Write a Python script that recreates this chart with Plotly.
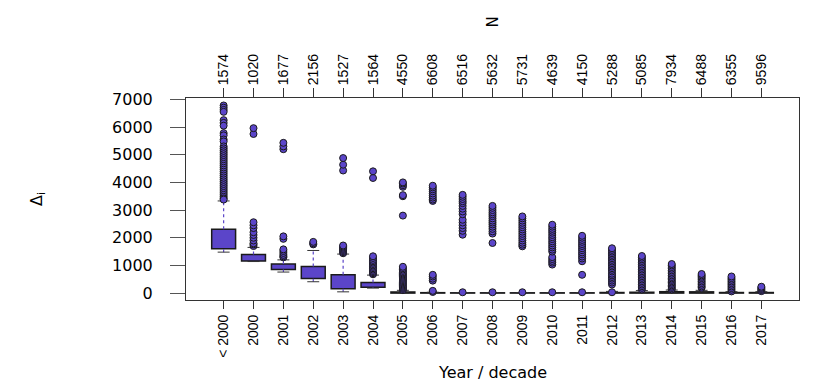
import plotly.graph_objects as go

YEARS = ["< 2000", "2000", "2001", "2002", "2003", "2004", "2005", "2006", "2007", "2008",
         "2009", "2010", "2011", "2012", "2013", "2014", "2015", "2016", "2017"]
N = [1574, 1020, 1677, 2156, 1527, 1564, 4550, 6608, 6516, 5632,
     5731, 4639, 4150, 5288, 5085, 7934, 6488, 6355, 9596]

# box stats
Q1 = [1600, 1160, 855, 530, 155, 210, 0, 0, 0, 0, 0, 0, 0, 0, 0, 0, 0, 0, 0]
Q3 = [2310, 1395, 1050, 960, 660, 385, 40, 15, 10, 10, 10, 10, 10, 20, 30, 50, 45, 20, 20]
LO = [1480, 1140, 760, 410, 45, 180, 0, 0, 0, 0, 0, 0, 0, 0, 0, 0, 0, 0, 0]
HI = [3330, 1650, 1200, 1540, 1410, 650, 100, 30, 20, 20, 20, 20, 20, 60, 90, 110, 100, 50, 50]

OUT = [
    [6780, 6700, 6620, 6550, 6250, 6150, 6050, 5780, 5700, 5550, 5480, 5300, 5230, 5160, 5090,
     5020, 4950, 4880, 4810, 4740, 4670, 4600, 4530, 4460, 4390, 4320, 4250, 4180, 4110, 4040,
     3970, 3900, 3830, 3760, 3690, 3620, 3550, 3480, 3420, 3380],
    [1700, 1760, 1800, 1900, 2000, 2100, 2200, 2350, 2450, 2560, 5750, 5960],
    [1290, 1330, 1380, 1450, 1520, 1580, 1960, 2050, 5200, 5300, 5430],
    [1760, 1800, 1850],
    [1440, 1480, 1520, 1560, 1600, 1640, 1680, 1720, 4430, 4640, 4880],
    [680, 720, 760, 800, 850, 900, 950, 1000, 1050, 1100, 1150, 1200, 1270, 1330, 4160, 4400],
    [110, 150, 190, 230, 270, 310, 350, 390, 430, 470, 510, 550, 590, 630, 670, 710, 750, 800,
     850, 900, 950, 2800, 3500, 3540, 3840, 3900, 3960, 4000],
    [40, 80, 450, 520, 600, 660, 3330, 3380, 3450, 3520, 3600, 3680, 3750, 3820, 3880],
    [30, 2110, 2250, 2350, 2450, 2550, 2650, 2850, 2950, 3050, 3150, 3250, 3320, 3400, 3480, 3550],
    [30, 1810, 2150, 2230, 2320, 2400, 2480, 2550, 2620, 2700, 2780, 2850, 2920, 3000, 3080, 3150],
    [30, 1690, 1750, 1820, 1900, 1980, 2060, 2140, 2220, 2300, 2380, 2460, 2540, 2620, 2700, 2770],
    [30, 1030, 1100, 1160, 1230, 1300, 1500, 1570, 1650, 1720, 1800, 1870, 1950, 2020, 2100,
     2180, 2250, 2320, 2400, 2470],
    [30, 660, 1150, 1250, 1320, 1400, 1470, 1550, 1620, 1700, 1770, 1850, 1920, 2000, 2070],
    [30, 310, 380, 450, 520, 580, 640, 700, 780, 840, 900, 960, 1020, 1080, 1140, 1200, 1260,
     1320, 1380, 1440, 1500, 1560, 1620],
    [130, 190, 250, 310, 370, 430, 490, 550, 610, 670, 730, 790, 850, 910, 970, 1030, 1100,
     1160, 1220, 1280, 1340],
    [130, 180, 230, 280, 330, 380, 430, 480, 530, 580, 640, 700, 760, 820, 880, 940, 1000, 1050],
    [190, 240, 300, 360, 420, 480, 540, 590, 640, 690],
    [60, 120, 180, 240, 300, 360, 420, 480, 540, 600],
    [70, 110, 150, 190, 230],
]

FILL = "#5b45c9"
EDGE = "#1a1a1a"


def main():
    pos = list(range(1, len(YEARS) + 1))

    fig = go.Figure()

    # whiskers (dashed, like R)
    wx, wy = [], []
    for p, lo, q1, q3, hi in zip(pos, LO, Q1, Q3, HI):
        wx += [p, p, None, p, p, None]
        wy += [lo, q1, None, q3, hi, None]
    fig.add_trace(go.Scatter(x=wx, y=wy, mode="lines", line=dict(color=FILL, width=1.2, dash="3px,3px"),
                             hoverinfo="skip", showlegend=False))

    # staples
    sx, sy = [], []
    for p, lo, hi in zip(pos, LO, HI):
        sx += [p - 0.2, p + 0.2, None, p - 0.2, p + 0.2, None]
        sy += [lo, lo, None, hi, hi, None]
    fig.add_trace(go.Scatter(x=sx, y=sy, mode="lines", line=dict(color="#333333", width=1),
                             hoverinfo="skip", showlegend=False))

    # boxes
    fig.add_trace(go.Bar(x=pos, base=Q1, y=[b - a for a, b in zip(Q1, Q3)], width=0.8,
                         marker=dict(color=FILL, line=dict(color=EDGE, width=1.5)),
                         showlegend=False))

    # outliers
    ox, oy = [], []
    for p, vals in zip(pos, OUT):
        ox += [p] * len(vals)
        oy += vals
    fig.add_trace(go.Scatter(x=ox, y=oy, mode="markers",
                             marker=dict(symbol="circle", size=7, color=FILL,
                                         line=dict(color=EDGE, width=1)),
                             showlegend=False))

    # dummy trace to switch on the top axis
    fig.add_trace(go.Scatter(x=pos, y=[None] * len(pos), xaxis="x2", showlegend=False,
                             hoverinfo="skip"))

    # page body has an 8px margin, so the figure is a bit smaller than the window
    tick_font = dict(family="Liberation Sans", size=14, color="black")
    fig.update_layout(
        width=822, height=374,
        margin=dict(l=178, r=31, t=90, b=82),
        paper_bgcolor="white", plot_bgcolor="white",
        font=dict(family="DejaVu Sans", color="black"),
        xaxis=dict(range=[-0.26, 20.26], tickvals=pos, ticktext=YEARS, tickangle=-90,
                   ticks="outside", ticklen=8, tickcolor="#333", tickfont=tick_font,
                   showgrid=False, zeroline=False, showline=True, mirror=True,
                   linecolor="#333", linewidth=1, automargin=False),
        xaxis2=dict(overlaying="x", side="top", range=[-0.26, 20.26], tickvals=pos,
                    ticktext=[str(n) for n in N], tickangle=-90, ticks="outside", ticklen=9,
                    tickcolor="#333", tickfont=tick_font, showgrid=False, zeroline=False,
                    automargin=False),
        yaxis=dict(range=[-250, 7050], tickvals=list(range(0, 7001, 1000)),
                   ticks="outside", ticklen=15, tickcolor="#555", ticklabelstandoff=14,
                   tickfont=dict(family="DejaVu Sans", size=16, color="black"),
                   showgrid=False, zeroline=False, showline=True, mirror=True,
                   linecolor="#333", linewidth=1, automargin=False),
        annotations=[
            dict(text="N", xref="paper", yref="paper", x=0.5, y=1.0, yshift=76,
                 xanchor="center", yanchor="middle",
                 showarrow=False, textangle=-90, font=dict(size=15)),
            dict(text="Δ<sub>i</sub>", xref="paper", yref="paper", x=0, xshift=-149, y=0.5,
                 xanchor="center", yanchor="middle",
                 showarrow=False, textangle=-90, font=dict(size=16)),
            dict(text="Year / decade", xref="paper", yref="paper", x=0.5, y=0, yshift=-72,
                 xanchor="center", yanchor="middle", showarrow=False, font=dict(size=16)),
        ],
    )
    fig.write_html("out.html")


if __name__ == "__main__":
    main()
